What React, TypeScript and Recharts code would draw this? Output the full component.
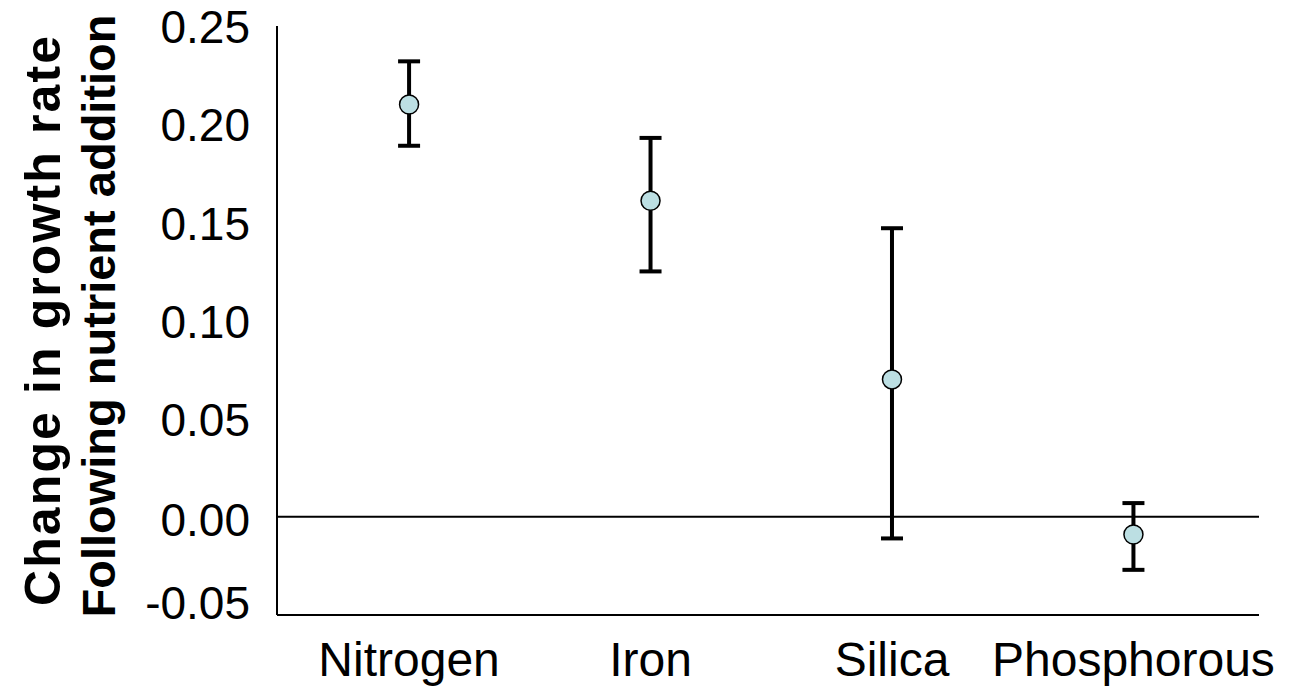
import React from 'react';
import { ScatterChart, Scatter, XAxis, YAxis, ReferenceLine, ErrorBar } from 'recharts';

const categories = ['Nitrogen', 'Iron', 'Silica', 'Phosphorous'];
const means = [0.21, 0.161, 0.07, -0.009];
const upper = [0.232, 0.193, 0.147, 0.007];
const lower = [0.189, 0.125, -0.011, -0.027];
const yTicks = [-0.05, 0, 0.05, 0.1, 0.15, 0.2, 0.25];

const data = categories.map((name, i) => ({
  x: i + 1,
  name,
  y: means[i],
  err: [means[i] - lower[i], upper[i] - means[i]],
}));

const FONT = '"Liberation Sans", Arial, sans-serif';

const Dot = (props: any) => (
  <circle cx={props.cx} cy={props.cy} r={9.5} fill="#bcdfe3" stroke="#000" strokeWidth={1.5} />
);

// Excel pulls the bottom label up a little, so nudge it
const YTick = (props: any) => {
  const { x, y, payload } = props;
  const shift = payload.value < 0 ? -12 : payload.value === 0 ? 3 : 1;
  return (
    <text x={x} y={y + shift} dy="0.355em" textAnchor="end" fill="#000" fontSize={46} fontFamily={FONT}>
      {payload.value.toFixed(2)}
    </text>
  );
};

const YTitle = () => (
  <g fontFamily={FONT} fontWeight="bold" fill="#000">
    <text
      x={43}
      y={321}
      transform="rotate(-90 43 321)"
      textAnchor="middle"
      dominantBaseline="central"
      fontSize={50}
      textLength={570}
      lengthAdjust="spacing"
    >
      Change in growth rate
    </text>
    <text
      x={98}
      y={316}
      transform="rotate(-90 98 316)"
      textAnchor="middle"
      dominantBaseline="central"
      fontSize={47}
    >
      Following nutrient addition
    </text>
  </g>
);

export default function App() {
  return (
    <div style={{ position: 'absolute', left: 0, top: 0, background: '#fff' }}>
      <ScatterChart width={1291} height={694} margin={{ top: 26, right: 32, bottom: 0, left: 0 }}>
        <XAxis
          type="number"
          dataKey="x"
          domain={[0.453, 4.52]}
          ticks={[1, 2, 3, 4]}
          tickFormatter={(v: number) => categories[v - 1]}
          allowDataOverflow
          height={79}
          axisLine={{ stroke: '#000', strokeWidth: 2 }}
          tickLine={false}
          tickSize={25}
          tickMargin={2}
          tick={{ fill: '#000', fontSize: 48, fontFamily: FONT }}
        />
        <YAxis
          type="number"
          dataKey="y"
          domain={[-0.05, 0.25]}
          ticks={yTicks}
          allowDataOverflow
          width={277}
          axisLine={{ stroke: '#000', strokeWidth: 2 }}
          tickLine={false}
          tickSize={25}
          tickMargin={2}
          tick={<YTick />}
          label={{ content: <YTitle /> }}
        />
        <ReferenceLine y={0} stroke="#000" strokeWidth={2} />
        <Scatter data={data} isAnimationActive={false} shape={<Dot />} />
        <Scatter data={data} isAnimationActive={false} shape={() => <g />}>
          <ErrorBar dataKey="err" direction="y" width={11} stroke="#000" strokeWidth={4} />
        </Scatter>
      </ScatterChart>
    </div>
  );
}
